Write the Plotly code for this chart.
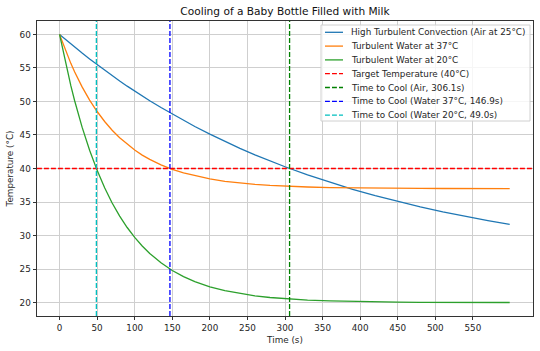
import plotly.graph_objects as go

time_s = [0, 5, 10, 15, 20, 30, 40, 50, 60, 70, 80, 90, 100, 110, 120, 135, 150, 165, 180,
          200, 220, 240, 260, 280, 300, 330, 360, 390, 420, 450, 480, 510, 540, 570, 599]

air_25 = [60.00, 59.52, 59.04, 58.58, 58.11, 57.21, 56.33, 55.48, 54.64, 53.83, 53.05, 52.28,
          51.54, 50.81, 50.11, 49.09, 48.11, 47.17, 46.27, 45.12, 44.04, 43.01, 42.04, 41.12,
          40.26, 39.04, 37.92, 36.89, 35.94, 35.07, 34.27, 33.53, 32.85, 32.23, 31.65]

water_37 = [60.00, 58.46, 57.02, 55.68, 54.43, 52.17, 50.21, 48.50, 47.01, 45.71, 44.59, 43.60,
            42.75, 42.00, 41.36, 40.54, 39.87, 39.33, 38.90, 38.44, 38.09, 37.83, 37.63, 37.47,
            37.36, 37.24, 37.16, 37.10, 37.07, 37.04, 37.03, 37.02, 37.01, 37.01, 37.01]

water_20 = [60.00, 57.27, 54.72, 52.35, 50.14, 46.17, 42.72, 39.72, 37.12, 34.86, 32.90, 31.20,
            29.72, 28.44, 27.33, 25.93, 24.79, 23.88, 23.14, 22.36, 21.78, 21.34, 21.01, 20.76,
            20.57, 20.38, 20.25, 20.16, 20.11, 20.07, 20.04, 20.03, 20.02, 20.01, 20.01]

target_temp = 40
cool_times = [306.1, 146.9, 49.0]
cool_labels = ["Time to Cool (Air, 306.1s)", "Time to Cool (Water 37°C, 146.9s)",
               "Time to Cool (Water 20°C, 49.0s)"]
curve_names = ["High Turbulent Convection (Air at 25°C)", "Turbulent Water at 37°C",
               "Turbulent Water at 20°C"]
target_label = "Target Temperature (40°C)"
x_ticks = list(range(0, 600, 50))
y_ticks = [20, 25, 30, 35, 40, 45, 50, 55, 60]
y_range = [18, 62]
x_range = [-30, 630]

W, H = 540, 351
ML, MR, MT, MB = 37, 7, 21, 35
PW, PH = W - ML - MR, H - MT - MB
FS = 8.8
TXT = "#262626"
LW = 1.3

def px_x(px):
    return (px - ML) / PW

def px_y(py):
    return (H - MB - py) / PH

fig = go.Figure()
curve_colors = ["#1f77b4", "#ff7f0e", "#2ca02c"]
for name, col, ys in zip(curve_names, curve_colors, [air_25, water_37, water_20]):
    fig.add_trace(go.Scatter(x=time_s, y=ys, mode="lines", name=name,
                             line=dict(color=col, width=LW)))

dash = "4.9px,2.1px"
fig.add_trace(go.Scatter(x=x_range, y=[target_temp, target_temp], mode="lines",
                         name=target_label,
                         line=dict(color="#ff0000", width=LW, dash=dash)))
cool_colors = ["#008000", "#0000ff", "#00bfbf"]
for t, lab, col in zip(cool_times, cool_labels, cool_colors):
    fig.add_trace(go.Scatter(x=[t, t], y=y_range, mode="lines", name=lab,
                             line=dict(color=col, width=LW, dash=dash)))

# legend (matplotlib-like, compact)
legend_entries = list(zip(curve_names, curve_colors, ["solid"] * 3)) + \
    [(target_label, "#ff0000", dash)] + list(zip(cool_labels, cool_colors, [dash] * 3))
shapes = [dict(type="rect", xref="paper", yref="paper",
               x0=px_x(321), x1=px_x(530), y0=px_y(121), y1=px_y(25),
               fillcolor="rgba(255,255,255,0.8)", line=dict(color="#d0d0d0", width=1),
               layer="above")]
annotations = []
for i, (lab, col, ds) in enumerate(legend_entries):
    yc = 32.3 + i * 13.8
    shapes.append(dict(type="line", xref="paper", yref="paper",
                       x0=px_x(325), x1=px_x(343), y0=px_y(yc), y1=px_y(yc),
                       line=dict(color=col, width=LW, dash=ds), layer="above"))
    annotations.append(dict(text=lab, xref="paper", yref="paper", x=px_x(349), y=px_y(yc),
                            xanchor="left", yanchor="middle", showarrow=False,
                            font=dict(size=FS, color=TXT)))

axis_common = dict(showline=True, linecolor="#333333", linewidth=0.9, mirror=True,
                   ticks="outside", ticklen=3.5, tickwidth=0.8, tickcolor="#333333",
                   showgrid=True, gridcolor="#cfcfcf", gridwidth=0.8, zeroline=False,
                   tickfont=dict(size=FS, color=TXT))
fig.update_xaxes(range=x_range, tickvals=x_ticks,
                 title=dict(text="Time (s)", font=dict(size=FS, color=TXT), standoff=4),
                 **axis_common)
fig.update_yaxes(range=y_range, tickvals=y_ticks,
                 title=dict(text="Temperature (°C)", font=dict(size=FS, color=TXT), standoff=4),
                 **axis_common)

fig.update_layout(
    width=W, height=H,
    margin=dict(l=ML, r=MR, t=MT, b=MB),
    paper_bgcolor="white", plot_bgcolor="white",
    font=dict(family="DejaVu Sans", size=FS, color=TXT),
    title=dict(text="Cooling of a Baby Bottle Filled with Milk", xref="paper", x=0.5,
               xanchor="center", yref="container", y=1 - 11.5 / H, yanchor="middle",
               font=dict(size=10.6, color="#111")),
    showlegend=False,
    shapes=shapes,
    annotations=annotations,
)

fig.write_html("out.html")
